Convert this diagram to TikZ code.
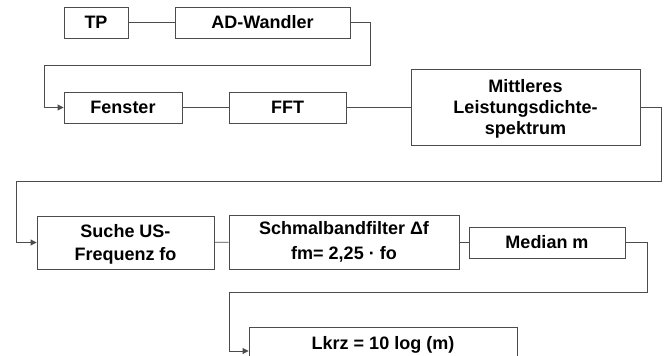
\documentclass[tikz,border=0pt]{standalone}
\usepackage{fontspec}
\setmainfont{Liberation Sans}
\usetikzlibrary{arrows.meta}
\begin{document}
\begin{tikzpicture}[x=1pt,y=-1pt,
  box/.style={draw=black!70, line width=0.9pt, minimum height=31pt, inner sep=0pt,
    font=\fontsize{18}{21}\selectfont\bfseries, align=center, text=black},
  conn/.style={draw=black!70, line width=0.9pt},
  arr/.style={conn, -{Triangle[length=6pt,width=6pt]}}]
\useasboundingbox (0,0) rectangle (667,356);
\fill[white] (0,0) rectangle (667,356);

\node[box, minimum width=64pt] (tp) at (96,22.5) {TP};
\node[box, minimum width=175pt] (ad) at (262.5,22.5) {AD-Wandler};
\node[box, minimum width=118pt] (fen) at (123,107.5) {Fenster};
\node[box, minimum width=117pt] (fft) at (287.5,107.5) {FFT};
\node[box, minimum width=229pt, minimum height=76pt, text depth=0pt] (mlds) at (525.5,107) {Mittleres\\Leistungsdichte-\\spektrum};
\node[box, minimum width=177pt, minimum height=53pt, text depth=0pt, font=\fontsize{18}{23}\selectfont\bfseries] (such) at (125.5,242.5) {Suche US-\\Frequenz fo};
\node[box, minimum width=230pt, minimum height=54pt, font=\fontsize{18}{25}\selectfont\bfseries] (schm) at (344,242) {Schmalbandfilter Δf\\fm= 2,25 · fo};
\node[box, minimum width=156pt] (med) at (547,242.5) {Median m};
\node[box, minimum width=268pt, minimum height=48pt, text depth=16pt] (lkrz) at (383,351) {Lkrz = 10 log (m)};

\coordinate (a1) at (370,65);
\coordinate (a2) at (44,65);
\coordinate (b1) at (661,181);
\coordinate (b2) at (16,181);
\coordinate (d1) at (647,292);
\coordinate (d2) at (229,292);

\draw[conn] (tp) -- (ad);
\draw[arr] (ad.east) -| (a1) -- (a2) |- (fen.west);
\draw[conn] (fen) -- (fft);
\draw[conn] (fft) -- (mlds.west |- fft);
\draw[arr] (mlds.east) -| (b1) -- (b2) |- (such.west);
\draw[conn] (such) -- (schm);
\draw[conn] (schm.east |- med) -- (med);
\draw[arr] (med.east) -| (d1) -- (d2) |- (lkrz.west);
\end{tikzpicture}
\end{document}
